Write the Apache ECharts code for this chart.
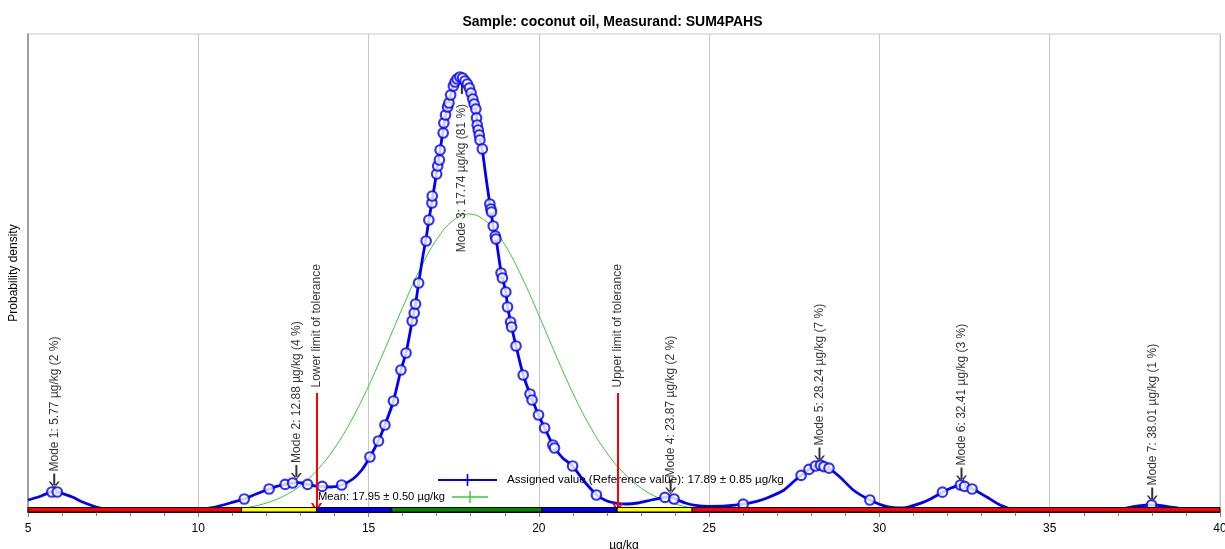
<!DOCTYPE html>
<html><head><meta charset="utf-8">
<script src="https://cdn.jsdelivr.net/npm/echarts/dist/echarts.min.js"></script>
<style>html,body{margin:0;padding:0;background:#fff;width:100%;height:100%;overflow:hidden}#chart{width:100%;height:100%}</style>
</head><body><div id="chart"></div>
<script>
// ---------------- data ----------------
const titleText = 'Sample: coconut oil, Measurand: SUM4PAHS';
const unit = 'µg/kg';
const yName = 'Probability density';
const xMin = 5, xMax = 40, xStep = 5;
const yMax = 0.239;

// kernel density curve [value, density]
const kdeCurve = [
[5.0,.006],[5.3,.0075],[5.5,.0088],[5.77,.0105],[6.0,.0093],[6.3,.0075],[6.6,.005],[7.0,.0025],[7.3,.0013],[7.6,.0005],
[8.0,.0003],[9.0,.0003],[9.5,.0005],[9.8,.0008],[10.0,.0013],[10.5,.0025],[11.0,.0048],[11.35,.0065],[11.7,.009],[12.08,.0115],
[12.3,.0128],[12.55,.0138],[12.77,.0145],[12.88,.0148],[13.04,.0145],[13.21,.0138],[13.45,.013],[13.64,.0128],[13.9,.0125],[14.21,.0135],
[14.54,.0165],[14.8,.021],[15.04,.0275],[15.28,.0353],[15.48,.0435],[15.73,.0555],[15.95,.071],[16.10,.0795],[16.28,.0955],[16.38,.104],
[16.47,.1145],[16.6,.1285],[16.7,.138],[16.78,.147],[16.86,.155],[17.0,.17],[17.1,.181],[17.2,.192],[17.3,.202],[17.41,.2085],
[17.49,.213],[17.6,.2165],[17.7,.2178],[17.8,.217],[17.9,.214],[18.0,.21],[18.1,.204],[18.15,.201],[18.2,.193],[18.27,.1865],
[18.34,.181],[18.45,.167],[18.56,.154],[18.66,.143],[18.74,.137],[18.89,.12],[19.03,.11],[19.08,.103],[19.2,.0925],[19.33,.083],
[19.54,.0685],[19.74,.059],[19.99,.0485],[20.17,.042],[20.41,.0335],[20.46,.032],[20.7,.027],[20.99,.023],[21.3,.016],[21.7,.0085],
[22.0,.0055],[22.3,.0043],[22.6,.004],[22.9,.0045],[23.3,.006],[23.7,.0073],[23.87,.0075],[24.0,.0065],[24.3,.0045],[24.6,.0033],
[25.0,.0028],[25.5,.003],[26.0,.0039],[26.4,.0053],[26.7,.007],[27.2,.011],[27.5,.0155],[27.72,.0185],[27.94,.0213],[28.11,.023],
[28.24,.0235],[28.37,.0228],[28.52,.0218],[28.84,.0175],[29.23,.011],[29.72,.006],[30.2,.0028],[30.7,.002],[31.2,.0043],[31.5,.0065],
[31.85,.0098],[32.1,.012],[32.41,.0135],[32.74,.0115],[33.15,.0075],[33.54,.0035],[34.0,.001],[34.5,.0005],[35.0,.0003],[36.0,.0003],
[36.6,.0005],[37.1,.0015],[37.6,.003],[38.01,.0035],[38.43,.0028],[38.8,.0018],[39.2,.001],[39.7,.0005],[40.0,.0003]
];

// laboratory results (circles on the density curve)
const labResults = [
[5.70,.010],[5.86,.010],[11.35,.0065],[12.08,.0115],[12.55,.0138],[12.77,.0145],[13.21,.0138],[13.64,.0128],[14.21,.0135],
[15.04,.0275],[15.29,.0355],[15.48,.0435],[15.73,.0555],[15.95,.071],[16.10,.0795],[16.28,.0955],[16.34,.0995],[16.38,.104],
[16.47,.1145],[16.69,.1355],[16.77,.146],[16.86,.1545],[16.87,.158],[17.00,.169],[17.03,.173],[17.08,.176],[17.10,.181],
[17.19,.1895],[17.21,.1945],[17.26,.1985],[17.32,.2025],[17.36,.2045],[17.41,.2085],[17.49,.213],[17.54,.215],[17.60,.2165],
[17.68,.2175],[17.76,.217],[17.83,.2155],[17.90,.214],[17.96,.212],[18.01,.2095],[18.06,.2065],[18.10,.204],[18.15,.2015],
[18.17,.197],[18.19,.1935],[18.22,.191],[18.25,.1885],[18.27,.186],[18.34,.1815],[18.56,.154],[18.59,.1515],[18.61,.15],
[18.66,.143],[18.72,.138],[18.74,.1365],[18.89,.1195],[18.93,.117],[19.03,.11],[19.08,.1025],[19.17,.095],[19.20,.0925],
[19.33,.083],[19.54,.0685],[19.74,.059],[19.80,.056],[19.99,.0485],[20.17,.042],[20.41,.0335],[20.46,.032],[20.99,.023],
[21.69,.0085],[23.70,.0073],[23.97,.0065],[26.00,.0039],[27.70,.0183],[27.93,.0213],[28.12,.023],[28.27,.0234],[28.37,.0227],
[28.52,.0219],[29.72,.006],[31.85,.0099],[32.38,.0135],[32.50,.0128],[32.72,.0115],[37.99,.0035]
];

// normal distribution around the mean (green)
const normalCurve = [
[5,0],[8,0],[9,.0001],[10,.0003],[10.5,.0006],[11,.0013],[11.5,.0024],[12,.0045],[12.5,.0079],[13,.0132],[13.5,.0211],
[14,.0319],[14.5,.046],[15,.063],[15.5,.0823],[16,.1023],[16.5,.121],[17,.1363],[17.5,.146],[17.95,.149],[18.5,.1446],
[19,.1336],[19.5,.1175],[20,.0984],[20.5,.0784],[21,.0594],[21.5,.0429],[22,.0295],[22.5,.0193],[23,.012],[23.5,.0071],
[24,.004],[24.5,.0021],[25,.0011],[25.5,.0005],[26,.0002],[27,.0001],[28,0],[40,0]
];

const modeX = [5.77, 12.88, 17.74, 23.87, 28.24, 32.41, 38.01];
const modeY = [.0105, .0148, .2178, .0075, .0235, .0135, .0035];
const modePct = [2, 4, 81, 2, 7, 3, 1];

const assignedValue = 17.89, assignedU = 0.85;
const meanValue = 17.95, meanU = 0.50;

const tolLimits = [13.47, 22.31];
const tolLabels = ['Lower limit of tolerance', 'Upper limit of tolerance'];
const tolArrowTop = 0.0595;

// z-score zones along the axis: edges and |z| class (0: <=1, 1: <=2, 2: <=3, 3: >3)
const zoneEdges = [5, 11.27, 13.47, 15.68, 20.09, 22.30, 24.50, 40];
const zoneClass = [3, 2, 1, 0, 1, 2, 3];

// ---------------- styles ----------------
const FONT = '"Liberation Sans", Arial, sans-serif';
const zoneColors = ['#008800', '#0000ff', '#ffff00', '#ff0000'];
const arrowDown = 'path://M4.5,0 H6.5 V13 H4.5 Z M0,8 L5.5,15 L11,8 L9.1,8 L5.5,12.5 L1.9,8 Z';
const chevronUp = 'path://M0,10 L5,0 L10,10 L8,10 L5,4 L2,10 Z';

const assignedName = `Assigned value (Reference value): ${assignedValue.toFixed(2)} ± ${assignedU.toFixed(2)} ${unit}`;
const meanName = `Mean: ${meanValue.toFixed(2)} ± ${meanU.toFixed(2)} ${unit}`;

const chart = echarts.init(document.getElementById('chart'), null, {renderer: 'canvas'});

const modeData = modeX.map((x, i) => {
  const below = modeY[i] > yMax * 0.6;
  return {
    value: [x, modeY[i]],
    symbolRotate: below ? 180 : 0,
    symbolOffset: below ? [0, 10] : [0, -10],
    label: below
      ? {position: 'bottom', align: 'right', distance: 10}
      : {position: 'top', align: 'left', distance: 2}
  };
});

const option = {
  animation: false,
  backgroundColor: '#fff',
  title: {
    text: titleText, left: 'center', top: 10,
    textStyle: {fontSize: 14, fontWeight: 'bold', fontFamily: FONT, color: '#000'}
  },
  grid: {left: 28, right: 5, top: 34, bottom: 37, show: true, borderColor: '#c8c8c8', borderWidth: 1,
         containLabel: false, outerBoundsMode: 'none'},
  legend: [
    {
      data: [{name: assignedName}], left: 433, top: 469, itemWidth: 59, itemHeight: 12,
      icon: 'path://M0,5 H60 V7 H0 Z M29.2,0 H30.8 V12 H29.2 Z',
      textStyle: {fontSize: 11.6, fontFamily: FONT, color: '#000', padding: [0, 0, 0, 5]},
      selectedMode: false
    },
    {
      data: [{name: meanName}], left: 313, top: 486, itemWidth: 36, itemHeight: 12, align: 'right',
      icon: 'path://M0,5.3 H36 V6.7 H0 Z M17.3,0 H18.7 V12 H17.3 Z',
      textStyle: {fontSize: 11.2, fontFamily: FONT, color: '#000', padding: [0, 2, 0, 0]},
      selectedMode: false
    }
  ],
  xAxis: {
    type: 'value', min: xMin, max: xMax, interval: xStep,
    name: unit, nameLocation: 'middle', nameGap: 27,
    nameTextStyle: {fontSize: 12, fontFamily: FONT, color: '#000'},
    axisLine: {show: true, lineStyle: {color: '#000', width: 1}},
    axisTick: {show: true, length: 5, lineStyle: {color: '#808080'}},
    minorTick: {show: true, splitNumber: 5, length: 4, lineStyle: {color: '#808080'}},
    axisLabel: {fontSize: 12, fontFamily: FONT, color: '#000', margin: 11},
    splitLine: {show: true, lineStyle: {color: '#c8c8c8', width: 1}}
  },
  yAxis: {
    type: 'value', min: 0, max: yMax,
    name: yName, nameLocation: 'middle', nameGap: 8,
    nameTextStyle: {fontSize: 12, fontFamily: FONT, color: '#000'},
    axisLine: {show: true, lineStyle: {color: '#a0a0a0', width: 2}},
    axisTick: {show: false}, axisLabel: {show: false}, splitLine: {show: false}
  },
  series: [
    {
      name: meanName, type: 'line', data: normalCurve, showSymbol: false, smooth: 0.4,
      lineStyle: {color: '#33cc33', width: 1}, itemStyle: {color: '#33cc33'}, z: 2, silent: true
    },
    {
      name: assignedName, type: 'line', data: [], showSymbol: false,
      lineStyle: {color: '#0000ff', width: 2}, itemStyle: {color: '#0000ff'}
    },
    {
      name: 'kde', type: 'line', data: kdeCurve, showSymbol: false, smooth: 0.2,
      lineStyle: {color: '#0000ff', width: 2.8}, z: 3, silent: true
    },
    {
      name: 'modes', type: 'scatter', data: modeData, symbol: arrowDown, symbolSize: [11, 15],
      itemStyle: {color: '#000'}, z: 3, silent: true,
      label: {
        show: true, rotate: 90, verticalAlign: 'middle', fontSize: 12, fontFamily: FONT, color: '#000',
        formatter: p => `Mode ${p.dataIndex + 1}: ${modeX[p.dataIndex].toFixed(2)} ${unit} (${modePct[p.dataIndex]} %)`
      }
    },
    {
      name: 'results', type: 'scatter', data: labResults, symbol: 'circle', symbolSize: 9.5,
      itemStyle: {color: '#ffffff', borderColor: '#0000ff', borderWidth: 2.2}, z: 4, silent: true
    },
    {
      name: 'tolerance', type: 'scatter', data: tolLimits.map(x => [x, tolArrowTop]),
      symbolSize: 1, itemStyle: {color: 'transparent'}, z: 6, silent: true,
      label: {
        show: true, position: 'top', distance: 5, rotate: 90, align: 'left', verticalAlign: 'middle',
        fontSize: 12, fontFamily: FONT, color: '#000',
        formatter: p => tolLabels[p.dataIndex]
      },
      markLine: {
        silent: true, symbol: ['none', chevronUp], symbolSize: [11, 10],
        lineStyle: {color: '#ff0000', width: 2, type: 'solid'},
        itemStyle: {color: '#ff0000'},
        label: {show: false},
        data: tolLimits.map(x => [{coord: [x, tolArrowTop]}, {coord: [x, 0.002]}])
      }
    },
    {
      name: 'zones', type: 'custom', z: 5, silent: true,
      data: zoneClass.map((c, i) => [zoneEdges[i], zoneEdges[i + 1], c]),
      encode: {x: [0, 1]},
      renderItem: (params, api) => {
        const p0 = api.coord([api.value(0), 0]);
        const p1 = api.coord([api.value(1), 0]);
        return {
          type: 'rect',
          shape: {x: p0[0], y: p0[1] - 4.5, width: p1[0] - p0[0], height: 4.5},
          style: {fill: zoneColors[api.value(2)], stroke: '#000', lineWidth: 1}
        };
      }
    }
  ]
};
chart.setOption(option);
window.addEventListener('resize', () => chart.resize());
</script></body></html>
